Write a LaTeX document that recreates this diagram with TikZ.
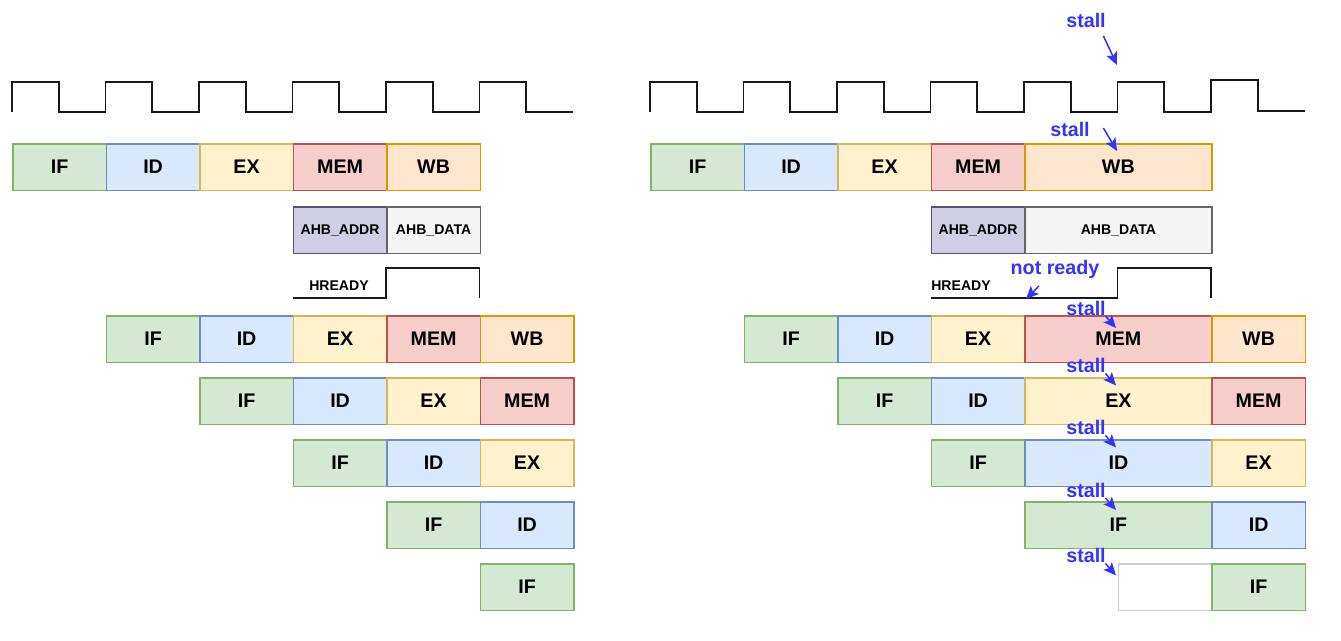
\documentclass[tikz,border=0pt]{standalone}
\usepackage{fontspec}
\setmainfont{Liberation Sans}
\usetikzlibrary{arrows.meta}
\definecolor{ifFill}{HTML}{D5E8D4}\definecolor{ifLine}{HTML}{82B366}
\definecolor{idFill}{HTML}{DAE8FC}\definecolor{idLine}{HTML}{6C8EBF}
\definecolor{exFill}{HTML}{FFF2CC}\definecolor{exLine}{HTML}{D6B656}
\definecolor{memFill}{HTML}{F8CECC}\definecolor{memLine}{HTML}{B85450}
\definecolor{wbFill}{HTML}{FFE6CC}\definecolor{wbLine}{HTML}{D79B00}
\definecolor{addrFill}{HTML}{D0CEE2}\definecolor{addrLine}{HTML}{56517E}
\definecolor{dataFill}{HTML}{F5F5F5}\definecolor{dataLine}{HTML}{666666}
\definecolor{stallBlue}{HTML}{3333FF}
\begin{document}
\begin{tikzpicture}[x=0.025cm,y=-0.025cm,
    cell/.style={draw,line width=1.2pt,anchor=north west,inner sep=0pt,
        minimum height=1.1625cm,minimum width=2.3375cm,
        font=\fontsize{14}{16}\selectfont\bfseries},
    wide/.style={minimum width=4.675cm},
    ifst/.style={cell,fill=ifFill,draw=ifLine},
    idst/.style={cell,fill=idFill,draw=idLine},
    exst/.style={cell,fill=exFill,draw=exLine},
    memst/.style={cell,fill=memFill,draw=memLine},
    wbst/.style={cell,fill=wbFill,draw=wbLine},
    addrph/.style={cell,fill=addrFill,draw=addrLine,font=\fontsize{10}{12}\selectfont\bfseries},
    dataph/.style={cell,fill=dataFill,draw=dataLine,font=\fontsize{10}{12}\selectfont\bfseries},
    bubble/.style={cell,fill=white,draw=black!20},
    sig/.style={font=\fontsize{10}{12}\selectfont\bfseries,inner sep=1pt},
    wave/.style={line width=1.1pt,black!90},
    note/.style={text=stallBlue,font=\fontsize{14}{16}\selectfont\bfseries,inner sep=1pt},
    stallarrow/.style={draw=stallBlue,line width=1.1pt,-{Stealth[length=9pt,width=8pt,inset=2pt]}}]
    \useasboundingbox (0,0) rectangle (1341,640);

    % ---- left: no wait state ----
    \draw[wave] (12,112) \foreach \i in {1,...,6} { -- ++(0,-30) -- ++(46.75,0) -- ++(0,30) -- ++(46.75,0) };

    \node[ifst] (lif1) at (12,143) {IF};
    \node[idst] (lid1) at (105.5,143) {ID};
    \node[exst] (lex1) at (199,143) {EX};
    \node[memst] (lmem1) at (292.5,143) {MEM};
    \node[wbst] (lwb1) at (386,143) {WB};

    \node[addrph] (laddr) at (292.5,206) {AHB\_ADDR};
    \node[dataph] (ldata) at (386,206) {AHB\_DATA};

    \node[sig] (lrdy) at (339,286) {HREADY};
    \draw[wave] (292.5,298) -- (386,298) -- (386,268) -- (479.5,268) -- (479.5,298);

    \node[ifst] (lif2) at (105.5,315) {IF};
    \node[idst] (lid2) at (199,315) {ID};
    \node[exst] (lex2) at (292.5,315) {EX};
    \node[memst] (lmem2) at (386,315) {MEM};
    \node[wbst] (lwb2) at (479.5,315) {WB};

    \node[ifst] (lif3) at (199,377) {IF};
    \node[idst] (lid3) at (292.5,377) {ID};
    \node[exst] (lex3) at (386,377) {EX};
    \node[memst] (lmem3) at (479.5,377) {MEM};

    \node[ifst] (lif4) at (292.5,439) {IF};
    \node[idst] (lid4) at (386,439) {ID};
    \node[exst] (lex4) at (479.5,439) {EX};

    \node[ifst] (lif5) at (386,501) {IF};
    \node[idst] (lid5) at (479.5,501) {ID};

    \node[ifst] (lif6) at (479.5,563) {IF};

    % ---- right: one wait state ----
    \draw[wave] (650,112) \foreach \i in {1,...,6} { -- ++(0,-30) -- ++(46.75,0) -- ++(0,30) -- ++(46.75,0) }
        -- ++(0,-32) -- ++(46.75,0) -- ++(0,31) -- ++(46.75,0);

    \node[ifst] (rif1) at (650,143) {IF};
    \node[idst] (rid1) at (743.5,143) {ID};
    \node[exst] (rex1) at (837,143) {EX};
    \node[memst] (rmem1) at (930.5,143) {MEM};
    \node[wbst,wide] (rwb1) at (1024,143) {WB};

    \node[addrph] (raddr) at (930.5,206) {AHB\_ADDR};
    \node[dataph,wide] (rdata) at (1024,206) {AHB\_DATA};

    \node[sig] (rrdy) at (961,286) {HREADY};
    \draw[wave] (930.5,298) -- (1117.5,298) -- (1117.5,268) -- (1211,268) -- (1211,298);

    \node[ifst] (rif2) at (743.5,315) {IF};
    \node[idst] (rid2) at (837,315) {ID};
    \node[exst] (rex2) at (930.5,315) {EX};
    \node[memst,wide] (rmem2) at (1024,315) {MEM};
    \node[wbst] (rwb2) at (1211,315) {WB};

    \node[ifst] (rif3) at (837,377) {IF};
    \node[idst] (rid3) at (930.5,377) {ID};
    \node[exst,wide] (rex3) at (1024,377) {EX};
    \node[memst] (rmem3) at (1211,377) {MEM};

    \node[ifst] (rif4) at (930.5,439) {IF};
    \node[idst,wide] (rid4) at (1024,439) {ID};
    \node[exst] (rex4) at (1211,439) {EX};

    \node[ifst,wide] (rif5) at (1024,501) {IF};
    \node[idst] (rid5) at (1211,501) {ID};

    \node[bubble] (rnop6) at (1117.5,563) {};
    \node[ifst] (rif6) at (1211,563) {IF};

    % stall marks
    \node[note] (st0) at (1086,20) {stall};
    \coordinate (tip0) at (1117,65);
    \draw[stallarrow] ([shift={(-4,7)}]st0.south east) -- (tip0);

    \node[note] (st1) at (1070,129) {stall};
    \coordinate (tip1) at (1117,151);
    \draw[stallarrow] ([shift={(12,-1)}]st1.east) -- (tip1);

    \node[note] (nrdy) at (1055,269) {not ready};
    \coordinate (tipr) at (1026,299);
    \draw[stallarrow] ([shift={(-16,6)}]nrdy.south) -- (tipr);

    \foreach \y/\n in {308/2,365.5/3,427.5/4,490/5,555.5/6} {
        \node[note] (st\n) at (1086,\y) {stall};
        \coordinate (tip\n) at (1116,\y+20);
        \draw[stallarrow] ([shift={(-2,-1)}]st\n.south east) -- (tip\n);
    }
\end{tikzpicture}
\end{document}
